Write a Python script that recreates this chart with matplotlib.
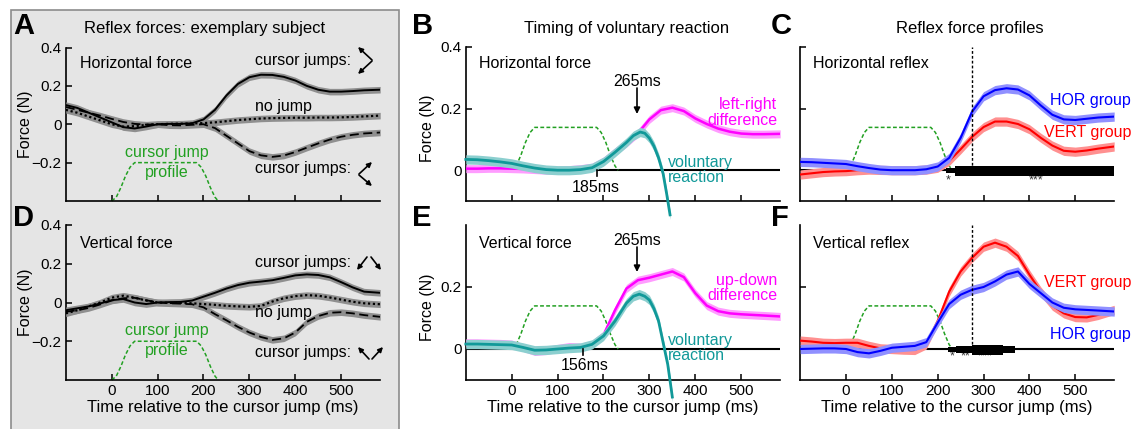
import matplotlib
matplotlib.use("Agg")
import matplotlib.pyplot as plt
from matplotlib.patches import Rectangle, FancyArrowPatch
import numpy as np

plt.rcParams['font.family'] = ['Liberation Sans', 'DejaVu Sans']

W, H = 1136, 429

# ---------------- data ----------------
t = [-100, -75, -50, -25, 0, 25, 50, 75, 100, 125, 150, 175, 200, 225, 250,
     275, 300, 325, 350, 375, 400, 425, 450, 475, 500, 525, 550, 585]

# Panel A: horizontal force, exemplary subject
a_jump_pos = [0.10, 0.085, 0.06, 0.035, 0.01, -0.015, -0.022, -0.012, 0.0, 0.002, 0.002, 0.005,
              0.025, 0.075, 0.15, 0.21, 0.245, 0.258, 0.257, 0.247, 0.228, 0.2, 0.18, 0.17,
              0.17, 0.173, 0.177, 0.18]
a_nojump = [0.075, 0.06, 0.04, 0.02, 0.0, -0.012, -0.01, -0.003, 0.0, 0.002, 0.003, 0.004,
            0.006, 0.01, 0.016, 0.022, 0.026, 0.03, 0.032, 0.033, 0.034, 0.034, 0.035, 0.035,
            0.036, 0.038, 0.041, 0.045]
a_jump_neg = [0.09, 0.075, 0.06, 0.045, 0.028, 0.012, 0.002, -0.002, 0.0, -0.005, -0.006, -0.003,
              0.0, -0.02, -0.06, -0.1, -0.14, -0.162, -0.17, -0.163, -0.145, -0.122, -0.1, -0.08,
              -0.065, -0.055, -0.048, -0.043]

# Panel D: vertical force, exemplary subject
d_jump_pos = [-0.04, -0.03, -0.02, -0.005, 0.012, 0.018, 0.0, -0.008, 0.0, 0.002, 0.003, 0.01,
              0.03, 0.05, 0.072, 0.09, 0.102, 0.108, 0.115, 0.127, 0.14, 0.145, 0.142, 0.13,
              0.105, 0.078, 0.056, 0.05]
d_nojump = [-0.056, -0.04, -0.02, 0.0, 0.025, 0.035, 0.025, 0.01, 0.0, -0.002, -0.002, -0.004,
            -0.008, -0.012, -0.017, -0.02, -0.022, -0.018, 0.005, 0.022, 0.033, 0.038, 0.035,
            0.026, 0.015, 0.004, -0.004, -0.009]
d_jump_neg = [-0.048, -0.04, -0.028, -0.01, 0.01, 0.022, 0.024, 0.012, 0.0, -0.004, -0.006, -0.009,
              -0.025, -0.06, -0.092, -0.126, -0.155, -0.178, -0.193, -0.185, -0.155, -0.1, -0.07,
              -0.053, -0.05, -0.056, -0.065, -0.074]

# Panel B: horizontal, timing of voluntary reaction
b_diff = [0.005, 0.005, 0.006, 0.006, 0.005, 0.004, 0.002, 0.0, 0.0, 0.002, 0.005, 0.01,
          0.03, 0.06, 0.088, 0.12, 0.165, 0.195, 0.203, 0.192, 0.168, 0.15, 0.135, 0.125,
          0.119, 0.117, 0.117, 0.118]
b_vol_t = [-100, -75, -50, -25, 0, 25, 50, 75, 100, 125, 150, 175, 200, 225, 250, 265, 280,
           290, 300, 310, 320, 330, 338, 345]
b_vol = [0.035, 0.034, 0.031, 0.027, 0.022, 0.014, 0.007, 0.002, 0.0, 0.0, 0.002, 0.008,
         0.028, 0.058, 0.09, 0.112, 0.124, 0.12, 0.104, 0.078, 0.04, -0.012, -0.08, -0.145]

# Panel E: vertical, timing of voluntary reaction
e_diff = [0.02, 0.02, 0.019, 0.018, 0.016, 0.005, -0.008, -0.005, 0.002, 0.008, 0.006, 0.015,
          0.045, 0.125, 0.195, 0.222, 0.23, 0.24, 0.25, 0.232, 0.18, 0.14, 0.122, 0.115,
          0.112, 0.11, 0.108, 0.105]
e_vol_t = [-100, -75, -50, -25, 0, 25, 50, 75, 100, 125, 150, 175, 200, 225, 250, 265, 278,
           290, 300, 310, 320, 330, 340, 350]
e_vol = [0.016, 0.016, 0.015, 0.014, 0.013, 0.005, -0.004, -0.003, 0.0, 0.003, 0.005, 0.015,
         0.042, 0.09, 0.148, 0.17, 0.177, 0.17, 0.158, 0.13, 0.09, 0.02, -0.05, -0.155]

# Panel C: horizontal reflex, group means
c_hor = [0.027, 0.026, 0.024, 0.022, 0.02, 0.013, 0.007, 0.002, 0.0, 0.0, 0.0, 0.003,
         0.012, 0.04, 0.105, 0.19, 0.24, 0.26, 0.266, 0.262, 0.243, 0.21, 0.18, 0.165,
         0.163, 0.167, 0.171, 0.174]
c_vert = [-0.014, -0.01, -0.006, -0.004, -0.003, 0.0, 0.002, 0.001, 0.0, 0.0, 0.0, 0.002,
          0.008, 0.03, 0.068, 0.108, 0.14, 0.158, 0.158, 0.15, 0.133, 0.105, 0.08, 0.063,
          0.06, 0.064, 0.07, 0.077]

# Panel F: vertical reflex, group means
f_vert = [0.027, 0.024, 0.02, 0.019, 0.02, 0.02, 0.01, 0.002, 0.0, -0.002, -0.003, 0.015,
          0.09, 0.185, 0.25, 0.294, 0.33, 0.343, 0.33, 0.3, 0.24, 0.185, 0.14, 0.115,
          0.103, 0.102, 0.11, 0.126]
f_hor = [0.0, 0.001, 0.002, 0.002, 0.0, -0.01, -0.014, -0.006, 0.004, 0.007, 0.01, 0.022,
         0.085, 0.145, 0.175, 0.191, 0.2, 0.218, 0.24, 0.25, 0.21, 0.18, 0.15, 0.133,
         0.128, 0.126, 0.124, 0.121]

# cursor jump profile (normalised)
prof_t = [0, 10, 20, 30, 40, 50, 185, 195, 205, 215, 225, 232]
prof_v = [0, 0.1, 0.35, 0.65, 0.88, 1, 1, 0.88, 0.65, 0.35, 0.1, 0]

# significance segments (start, end, level)
c_sig = [(218, 238, 1), (238, 585, 3)]
f_sig = [(223, 240, 1), (240, 275, 2), (275, 343, 3), (343, 369, 2)]
c_stars = [(222, '*'), (415, '***')]
f_stars = [(231, '*'), (260, '**'), (303, '***')]

xticks = [0, 100, 200, 300, 400, 500]
reaction_onset = 275

# ---------------- helpers ----------------
fig = plt.figure(figsize=(W / 100, H / 100), dpi=100)


def rect(l, tp, r, b):
    return [l / W, 1 - b / H, (r - l) / W, (b - tp) / H]


def fx(x, y):
    return (x / W, 1 - y / H)


GREEN = '#22a022'
TEAL = '#119999'
MAG = '#ff00ff'

# gray box behind A and D
fig.patches.append(Rectangle((11 / W, -0.01), (399 - 11) / W, (429 - 10) / H + 0.01,
                             transform=fig.transFigure, facecolor='#e5e5e5',
                             edgecolor='#8c8c8c', lw=1.2, zorder=-10))


def style(ax, ylim, yticks, ylabels, xlabels):
    ax.set_xlim(-100, 585)
    ax.set_ylim(*ylim)
    ax.patch.set_alpha(0)
    for s in ['top', 'right']:
        ax.spines[s].set_visible(False)
    for s in ['left', 'bottom']:
        ax.spines[s].set_linewidth(1.2)
    ax.spines['left'].set_bounds(ylim[0], max(yticks + [ylim[1]]))
    ax.set_xticks(xticks)
    ax.set_yticks(yticks)
    ax.set_yticklabels(ylabels)
    if xlabels:
        ax.set_xticklabels([str(v) for v in xticks])
        ax.set_xlabel('Time relative to the cursor jump (ms)', fontsize=12, labelpad=1)
    else:
        ax.set_xticklabels([])
    ax.tick_params(direction='in', length=4, width=1.1, labelsize=11, pad=3)


def band_line(ax, x, y, color, bandcolor, hw, ls='-', lw=1.4, clip=True, z=3):
    y = np.asarray(y)
    ax.fill_between(x, y - hw, y + hw, color=bandcolor, lw=0, zorder=z, clip_on=clip)
    ax.plot(x, y, color=color, ls=ls, lw=lw, zorder=z + 1, clip_on=clip)


# ---------------- A & D ----------------
axA = fig.add_axes(rect(65.8, 47.5, 380.2, 201))
axD = fig.add_axes(rect(65.8, 225, 380.2, 380))
for ax, ys, xl in [(axA, (a_jump_pos, a_nojump, a_jump_neg), False),
                   (axD, (d_jump_pos, d_nojump, d_jump_neg), True)]:
    style(ax, (-0.4, 0.4), [-0.2, 0, 0.2, 0.4], ['\u22120.2', '0', '0.2', '0.4'], xl)
    band_line(ax, t, ys[0], 'black', '#8f8f8f', 0.017, '-', 1.4)
    band_line(ax, t, ys[1], 'black', '#8f8f8f', 0.017, (0, (1, 1.2)), 1.6)
    band_line(ax, t, ys[2], 'black', '#8f8f8f', 0.017, (0, (5, 2.5)), 1.3)
    ax.plot(prof_t, -0.4 + 0.2 * np.asarray(prof_v), color=GREEN, ls=(0, (2.5, 1.5)),
            lw=1.1, clip_on=False, zorder=2)
    ax.set_ylabel('Force (N)', fontsize=11.5)
    ax.yaxis.set_label_coords(-0.104, 0.5)

# ---------------- B & E ----------------
axB = fig.add_axes(rect(465.8, 47, 780.2, 201))
axE = fig.add_axes(rect(465.8, 225, 780.2, 380))
style(axB, (-0.1, 0.4), [0, 0.2, 0.4], ['0', '0.2', '0.4'], False)
style(axE, (-0.1, 0.4), [0, 0.2], ['0', '0.2'], True)
axE.spines['left'].set_bounds(-0.1, 0.4)
for ax, diff, vt, vol in [(axB, b_diff, b_vol_t, b_vol), (axE, e_diff, e_vol_t, e_vol)]:
    ax.axhline(0, color='black', lw=1.5, zorder=1)
    ax.plot(prof_t, 0.139 * np.asarray(prof_v), color=GREEN, ls=(0, (2.5, 1.5)), lw=1.1, zorder=2)
    band_line(ax, t, diff, MAG, '#ff9cff', 0.013, '-', 1.8)
    band_line(ax, vt, vol, TEAL, '#8ccfcf', 0.015, '-', 2.0, clip=False, z=5)
    ax.set_ylabel('Force (N)', fontsize=11.5)
    ax.yaxis.set_label_coords(-0.098, 0.47)

# ---------------- C & F ----------------
axC = fig.add_axes(rect(800.2, 47, 1114.2, 201))
axF = fig.add_axes(rect(800.2, 225, 1114.2, 380))
style(axC, (-0.1, 0.4), [0, 0.2, 0.4], ['', '', ''], False)
style(axF, (-0.1, 0.4), [0, 0.2], ['', ''], True)
axF.spines['left'].set_bounds(-0.1, 0.4)
sig_h = {1: (0.006, -0.009), 2: (0.01, -0.012), 3: (0.013, -0.018)}
for ax, s1, s2, sig, stars, stary in [
        (axC, c_hor, c_vert, c_sig, c_stars, -0.032),
        (axF, f_hor, f_vert, f_sig, f_stars, -0.025)]:
    ax.axhline(0, color='black', lw=1.5, zorder=1)
    ax.plot(prof_t, 0.139 * np.asarray(prof_v), color=GREEN, ls=(0, (2.5, 1.5)), lw=1.1, zorder=2)
    band_line(ax, t, s2, 'red', '#ff9090', 0.015, '-', 1.5)
    band_line(ax, t, s1, 'blue', '#9090ff', 0.015, '-', 1.5, z=5)
    ax.plot([reaction_onset, reaction_onset], [0, 0.4], color='black', ls=(0, (2, 1.5)),
            lw=1.0, zorder=7)
    for a, b, lev in sig:
        top, bot = sig_h[lev]
        ax.fill_between([a, b], [bot, bot], [top, top], color='black', lw=0, zorder=8)
    for x, s in stars:
        ax.text(x, stary, s, fontsize=9, ha='center', va='center', color='#333333')

# ---------------- texts ----------------
def ftext(x, y, s, **kw):
    kw.setdefault('va', 'center')
    kw.setdefault('fontsize', 11.5)
    fig.text(x / W, 1 - y / H, s, **kw)


for lab, x, y in [('A', 13, 26), ('D', 13, 218), ('B', 412, 26), ('E', 412, 218),
                  ('C', 771, 26), ('F', 771, 218)]:
    ftext(x, y, lab, fontsize=21, fontweight='bold')

ftext(205, 28, 'Reflex forces: exemplary subject', ha='center', fontsize=12)
ftext(627, 28, 'Timing of voluntary reaction', ha='center', fontsize=12)
ftext(970, 28, 'Reflex force profiles', ha='center', fontsize=12)

ftext(80, 64, 'Horizontal force')
ftext(255, 61, 'cursor jumps:')
ftext(255, 107, 'no jump')
ftext(255, 168, 'cursor jumps:')
ftext(167, 152, 'cursor jump', ha='center', color=GREEN)
ftext(167, 173, 'profile', ha='center', color=GREEN)

ftext(80, 243, 'Vertical force')
ftext(255, 263, 'cursor jumps:')
ftext(255, 312, 'no jump')
ftext(255, 353, 'cursor jumps:')
ftext(167, 330, 'cursor jump', ha='center', color=GREEN)
ftext(167, 351, 'profile', ha='center', color=GREEN)

ftext(479, 64, 'Horizontal force')
ftext(637, 82, '265ms', ha='center')
ftext(596, 187, '185ms', ha='center')
ftext(668, 162, 'voluntary', color=TEAL)
ftext(668, 178, 'reaction', color=TEAL)
ftext(777, 104, 'left-right', ha='right', color=MAG)
ftext(777, 120, 'difference', ha='right', color=MAG)

ftext(479, 243, 'Vertical force')
ftext(637, 240, '265ms', ha='center')
ftext(585, 365, '156ms', ha='center')
ftext(668, 340, 'voluntary', color=TEAL)
ftext(668, 356, 'reaction', color=TEAL)
ftext(777, 280, 'up-down', ha='right', color=MAG)
ftext(777, 296, 'difference', ha='right', color=MAG)

ftext(813, 64, 'Horizontal reflex')
ftext(1131, 100, 'HOR group', ha='right', color='blue')
ftext(1131, 132, 'VERT group', ha='right', color='red')
ftext(813, 243, 'Vertical reflex')
ftext(1131, 283, 'VERT group', ha='right', color='red')
ftext(1131, 334, 'HOR group', ha='right', color='blue')

# onset ticks in B and E
axB.plot([185, 185], [0, -0.018], color='black', lw=1.2, zorder=8)
axE.plot([156, 156], [0, -0.018], color='black', lw=1.2, zorder=8)


# arrows
def farrow(x0, y0, x1, y1, ms=9):
    fig.patches.append(FancyArrowPatch(fx(x0, y0), fx(x1, y1), transform=fig.transFigure,
                                       arrowstyle='-|>', mutation_scale=ms, lw=1.2,
                                       color='black', shrinkA=0, shrinkB=0, zorder=10))


farrow(637, 88, 637, 114)
farrow(637, 247, 637, 272)
farrow(372, 60, 358, 47, 7)
farrow(372, 61, 358, 74, 7)
farrow(359, 174, 372, 162, 7)
farrow(359, 175, 372, 186, 7)
farrow(367, 257, 357, 270, 7)
farrow(371, 257, 381, 270, 7)
farrow(369, 359, 358, 347, 7)
farrow(372, 359, 383, 347, 7)

fig.savefig('out.png', dpi=100)
